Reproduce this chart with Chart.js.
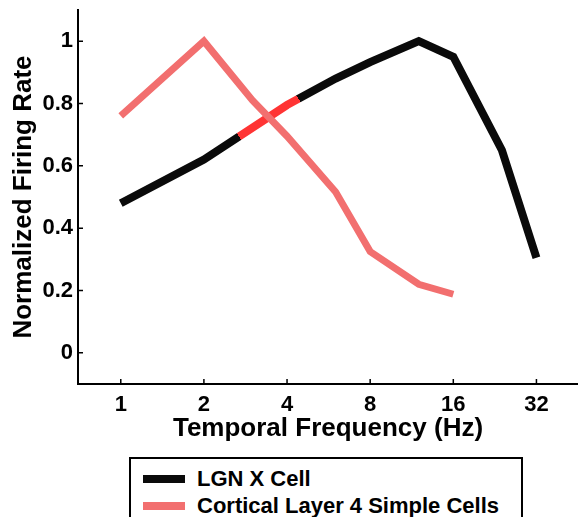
<!DOCTYPE html>
<html>
<head>
<meta charset="utf-8">
<script src="https://cdn.jsdelivr.net/npm/chart.js@4"></script>
<style>
  body { margin: 0; background: #fff; }
  #wrap { position: relative; width: 578px; height: 517px; overflow: hidden; }
  #legend {
    position: absolute; left: 129px; top: 457px; width: 390px; height: 80px;
    border: 2px solid #000; box-sizing: content-box;
    font: bold 22px "Liberation Sans", Arial, sans-serif; color: #000;
  }
  .row { position: absolute; left: 0; height: 26px; line-height: 26px; white-space: nowrap; }
  .swatch { position: absolute; left: 12px; top: 9px; width: 42px; height: 8px; }
  .label { position: absolute; left: 66px; top: 0; }
</style>
</head>
<body>
<div id="wrap">
  <canvas id="chart" width="578" height="446"></canvas>
  <div id="legend"></div>
</div>
<script>
// data
const lgnFreq = [1, 2, 4, 6, 8, 12, 16, 24, 32];
const lgnRate = [0.48, 0.62, 0.795, 0.88, 0.933, 1.0, 0.95, 0.65, 0.305];
const corticalFreq = [1, 2, 3, 4, 6, 8, 12, 16];
const corticalRate = [0.76, 1.0, 0.81, 0.695, 0.516, 0.325, 0.22, 0.188];

const xTicks = [1, 2, 4, 8, 16, 32];
const xTickLabels = ["1", "2", "4", "8", "16", "32"];
const yTicks = [0, 0.2, 0.4, 0.6, 0.8, 1];
const yTickLabels = ["0", "0.2", "0.4", "0.6", "0.8", "1"];

const seriesNames = ["LGN X Cell", "Cortical Layer 4 Simple Cells"];

// colours
const LGN_COLOR = "#0a0a0a";
const CORTICAL_COLOR = "#f26f6f";
const HILITE_COLOR = "#ff3434";
// part of the black curve that shows up bright red in the original (Hz)
const HILITE_FROM = 2.68;
const HILITE_TO = 4.38;

const FONT = '"Liberation Sans", Arial, sans-serif';

// black stroke with a red band, gradient runs along the 2 -> 4 Hz segment
function lgnStroke(context) {
  const chart = context.chart;
  if (!chart.chartArea) return LGN_COLOR;
  const xs = chart.scales.x, ys = chart.scales.y;
  const x0 = xs.getPixelForValue(lgnFreq[1]), y0 = ys.getPixelForValue(lgnRate[1]);
  const x1 = xs.getPixelForValue(lgnFreq[2]), y1 = ys.getPixelForValue(lgnRate[2]);
  const g = chart.ctx.createLinearGradient(x0, y0, 2 * x1 - x0, 2 * y1 - y0);
  const span = 2 * (Math.log2(lgnFreq[2]) - Math.log2(lgnFreq[1]));
  const f0 = (Math.log2(HILITE_FROM) - Math.log2(lgnFreq[1])) / span;
  const f1 = (Math.log2(HILITE_TO) - Math.log2(lgnFreq[1])) / span;
  g.addColorStop(0, LGN_COLOR);
  g.addColorStop(f0, LGN_COLOR);
  g.addColorStop(f0, HILITE_COLOR);
  g.addColorStop(f1, HILITE_COLOR);
  g.addColorStop(f1, LGN_COLOR);
  g.addColorStop(1, LGN_COLOR);
  return g;
}

// small tick marks pointing into the plot
const innerTicks = {
  id: "innerTicks",
  afterDraw(chart) {
    const { ctx, chartArea: a, scales } = chart;
    ctx.save();
    ctx.strokeStyle = "#000";
    ctx.lineWidth = 1.5;
    ctx.beginPath();
    xTicks.forEach(v => {
      const x = scales.x.getPixelForValue(v);
      ctx.moveTo(x, a.bottom);
      ctx.lineTo(x, a.bottom - 5);
    });
    yTicks.forEach(v => {
      const y = scales.y.getPixelForValue(v);
      ctx.moveTo(a.left, y);
      ctx.lineTo(a.left + 5, y);
    });
    ctx.stroke();
    ctx.restore();
  }
};

const chart = new Chart(document.getElementById("chart"), {
  type: "line",
  data: {
    datasets: [
      {
        label: seriesNames[0],
        data: lgnFreq.map((f, i) => ({ x: f, y: lgnRate[i] })),
        borderColor: lgnStroke,
        borderWidth: 8,
        pointRadius: 0,
        tension: 0,
        order: 1
      },
      {
        label: seriesNames[1],
        data: corticalFreq.map((f, i) => ({ x: f, y: corticalRate[i] })),
        borderColor: CORTICAL_COLOR,
        borderWidth: 7,
        pointRadius: 0,
        tension: 0,
        order: 0
      }
    ]
  },
  options: {
    responsive: false,
    animation: false,
    layout: { padding: { top: 10, right: 0, bottom: 0, left: 0 } },
    plugins: {
      legend: { display: false },
      tooltip: { enabled: false }
    },
    scales: {
      x: {
        type: "logarithmic",
        min: Math.pow(2, -0.5),
        max: Math.pow(2, 5.5),
        afterBuildTicks: s => { s.ticks = xTicks.map(v => ({ value: v })); },
        afterFit: s => { s.height = 62; s.paddingLeft = 0; s.paddingRight = 0; },
        ticks: {
          autoSkip: false,
          maxRotation: 0,
          padding: 8,
          color: "#000",
          font: { family: FONT, size: 22, weight: "bold" },
          callback: (v, i) => xTickLabels[i]
        },
        grid: { display: false, drawTicks: false },
        border: { display: true, color: "#000", width: 2 },
        title: {
          display: true,
          text: "Temporal Frequency (Hz)",
          color: "#000",
          font: { family: FONT, size: 26, weight: "bold", lineHeight: 1.2 },
          padding: { top: 0, bottom: 2 }
        }
      },
      y: {
        min: -0.1,
        max: 1.1,
        afterBuildTicks: s => { s.ticks = yTicks.map(v => ({ value: v })); },
        afterFit: s => { s.width = 78; s.paddingTop = 0; s.paddingBottom = 0; },
        ticks: {
          padding: 5,
          color: "#000",
          font: { family: FONT, size: 22, weight: "bold" },
          callback: (v, i) => yTickLabels[i]
        },
        grid: { display: false, drawTicks: false },
        border: { display: true, color: "#000", width: 2 },
        title: {
          display: true,
          text: "Normalized Firing Rate",
          color: "#000",
          font: { family: FONT, size: 26, weight: "bold", lineHeight: 1.2 },
          padding: { top: 8, bottom: 0 }
        }
      }
    }
  },
  plugins: [innerTicks]
});

// boxed legend with one entry per row
const legendEl = document.getElementById("legend");
const swatchColors = [LGN_COLOR, CORTICAL_COLOR];
chart.data.datasets.forEach((ds, i) => {
  const row = document.createElement("div");
  row.className = "row";
  row.style.top = (7 + i * 27) + "px";
  row.innerHTML = `<span class="swatch" style="background:${swatchColors[i]}"></span><span class="label">${ds.label}</span>`;
  legendEl.appendChild(row);
});
</script>
</body>
</html>
